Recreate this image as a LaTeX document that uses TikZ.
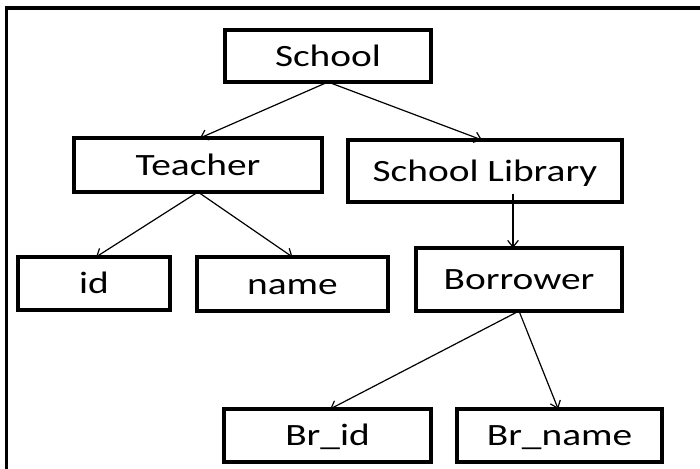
\documentclass[tikz,border=0pt]{standalone}
\usepackage{fontspec}
\setmainfont{Carlito}[FakeStretch=1.27]
\usetikzlibrary{arrows.meta,calc}
\begin{document}
\begin{tikzpicture}[x=0.75pt,y=-0.75pt,
  box/.style={draw, line width=2.6pt, inner sep=0pt, outer sep=0pt,
    text height=15pt, text depth=0pt,
    font=\fontsize{23.25pt}{28pt}\selectfont},
  arr/.style={-{Straight Barb[length=5pt,width=8pt]}, line width=0.9pt}]
\useasboundingbox (0,0) rectangle (700,468);
\draw[line width=2.4pt] (6.5,472) -- (6.5,8) -- (704,8);
\node[box, minimum width=154.5pt, minimum height=39pt] (school) at (328,56) {School};
\node[box, minimum width=186pt, minimum height=40.5pt] (teacher) at (198,165) {Teacher};
\node[box, minimum width=205.5pt, minimum height=46.5pt] (lib) at (485,171) {School Library};
\node[box, minimum width=114pt, minimum height=39.75pt] (id) at (94,283.5) {id};
\node[box, minimum width=143.25pt, minimum height=40.5pt] (name) at (292.5,284) {name};
\node[box, minimum width=154.5pt, minimum height=47.25pt] (bor) at (519,279.5) {Borrower};
\node[box, minimum width=155.25pt, minimum height=39.75pt] (brid) at (327.5,435.5) {Br\_id};
\node[box, minimum width=153.75pt, minimum height=39.75pt] (brname) at (559.5,435.5) {Br\_name};
\draw[arr] (school.south) -- ([xshift=1.5pt]teacher.north);
\draw[arr] (school.south) -- ([xshift=-2.25pt]lib.north);
\draw[arr] ($(lib.south)+(28,-8)$) -- ([xshift=-4.5pt]bor.north);
\draw[arr] (teacher.south) -- ([xshift=1.5pt]id.north);
\draw[arr] (teacher.south) -- (name.north);
\draw[arr] (bor.south) -- ([xshift=2pt]brid.north);
\draw[arr] (bor.south) -- ([xshift=-1pt]brname.north);
\end{tikzpicture}
\end{document}
